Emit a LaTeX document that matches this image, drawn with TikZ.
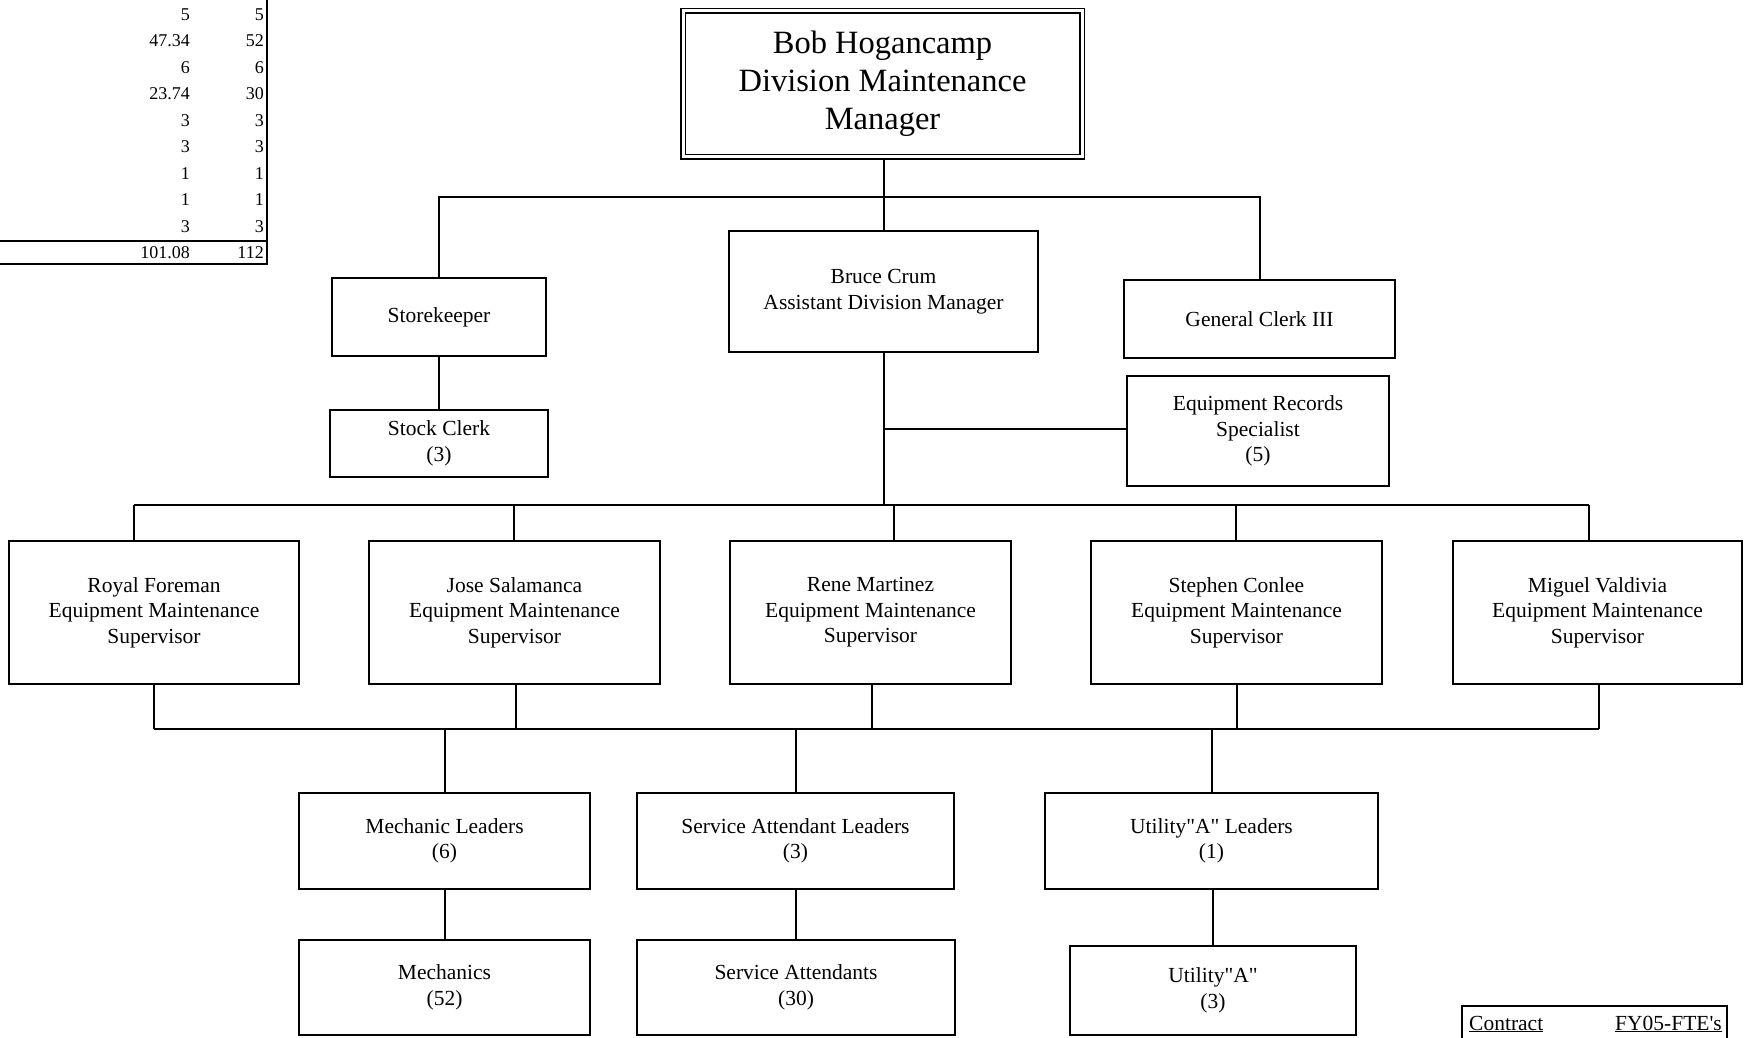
\documentclass[tikz,border=0pt]{standalone}
\usepackage{fontspec}
\setmainfont{Liberation Serif}
\begin{document}
\begin{tikzpicture}[x=1pt,y=-1pt,
  box/.style={draw=black, line width=2pt, rectangle, align=center, inner sep=0pt,
    font=\fontsize{21.5}{25.6}\selectfont},
  topbox/.style={draw=black, double=white, double distance=3pt, line width=1.6pt,
    rectangle, align=center, inner sep=0pt, font=\fontsize{32.5}{38}\selectfont},
  conn/.style={line width=2pt},
  tnum/.style={anchor=east, inner sep=0pt, font=\fontsize{18}{20}\selectfont},
  ctext/.style={inner sep=0pt, font=\fontsize{21.5}{25}\selectfont}
]
\useasboundingbox (0,0) rectangle (1748,1038);

% ---- table fragment (top left)
\draw[line width=2pt] (0,241) -- (267,241);
\draw[line width=1.6pt] (0,264) -- (267,264) -- (267,0);
\foreach \i/\a/\b in {0/5/5,1/47.34/52,2/6/6,3/23.74/30,4/3/3,5/3/3,6/1/1,7/1/1,8/3/3}{
  \node[tnum] (ta\i) at (190,{14.5+26.5*\i}) {\a};
  \node[tnum] (tb\i) at (264,{14.5+26.5*\i}) {\b};
}
\node[tnum] (tatot) at (190,253) {101.08};
\node[tnum] (tbtot) at (264,253) {112};

% ---- nodes
\node[topbox, minimum width=399, minimum height=146] (top) at (882.5,84)
  {Bob Hogancamp\\Division Maintenance\\Manager};
\node[box, minimum width=214, minimum height=78] (store) at (439,317) {Storekeeper};
\node[box, minimum width=309, minimum height=121] (bruce) at (883.5,291.5)
  {Bruce Crum\\Assistant Division Manager};
\node[box, minimum width=271, minimum height=78] (gc) at (1259.5,319) {General Clerk III};
\node[box, minimum width=218, minimum height=67] (stock) at (439,443.5) {Stock Clerk\\(3)};
\node[box, minimum width=262, minimum height=110] (ers) at (1258,431)
  {Equipment Records\\Specialist\\(5)};

\node[box, minimum width=290, minimum height=143] (royal) at (154,612.5)
  {Royal Foreman\\Equipment Maintenance\\Supervisor};
\node[box, minimum width=291, minimum height=143] (jose) at (514.5,612.5)
  {Jose Salamanca\\Equipment Maintenance\\Supervisor};
\node[box, minimum width=281, minimum height=143] (rene) at (870.5,612.5)
  {Rene Martinez\\Equipment Maintenance\\Supervisor};
\node[box, minimum width=291, minimum height=143] (steph) at (1236.5,612.5)
  {Stephen Conlee\\Equipment Maintenance\\Supervisor};
\node[box, minimum width=289, minimum height=143] (miguel) at (1597.5,612.5)
  {Miguel Valdivia\\Equipment Maintenance\\Supervisor};

\node[box, minimum width=291, minimum height=96] (mechl) at (444.5,841) {Mechanic Leaders\\(6)};
\node[box, minimum width=317, minimum height=96] (servl) at (795.5,841) {Service Attendant Leaders\\(3)};
\node[box, minimum width=333, minimum height=96] (utill) at (1211.5,841) {Utility\textquotedbl A\textquotedbl{} Leaders\\(1)};

\node[box, minimum width=291, minimum height=95] (mech) at (444.5,987.5) {Mechanics\\(52)};
\node[box, minimum width=318, minimum height=95] (serv) at (796,987.5) {Service Attendants\\(30)};
\node[box, minimum width=286, minimum height=89] (util) at (1213,990.5) {Utility\textquotedbl A\textquotedbl\\(3)};

% ---- contract box (cut at the bottom edge)
\coordinate (cbl) at (1462,1040);
\coordinate (ctl) at (1462,1006);
\coordinate (ctr) at (1727,1006);
\coordinate (cbr) at (1727,1040);
\draw[line width=2pt] (cbl) -- (ctl) -- (ctr) -- (cbr);
\node[ctext, anchor=base west] (contract) at (1469,1030) {\underline{Contract}};
\node[ctext, anchor=base east] (fte) at (1722,1030) {\underline{FY05-FTE\textquotesingle s}};

% ---- connectors top part
\coordinate (h1) at (884,197);
\coordinate (hl) at (439,197);
\coordinate (hr) at (1259.5,197);
\draw[conn] (top.south -| h1) -- (h1);
\draw[conn] (store.north) -- (hl) -- (hr) -- (gc.north);
\draw[conn] (h1) -- (bruce.north -| h1);
\draw[conn] (store.south) -- (stock.north);
\coordinate (bus) at (884,505);
\draw[conn] (bruce.south -| bus) -- (bus);
\coordinate (ersj) at (884,429);
\draw[conn] (ersj) -- (ersj -| ers.west);

% ---- upper bus to supervisors
\coordinate (d1) at (134,505);
\coordinate (d2) at (514,505);
\coordinate (d3) at (894,505);
\coordinate (d4) at (1236,505);
\coordinate (d5) at (1589,505);
\draw[conn] (d1) -- (d5);
\draw[conn] (d1) -- (d1 |- royal.north);
\draw[conn] (d2) -- (d2 |- jose.north);
\draw[conn] (d3) -- (d3 |- rene.north);
\draw[conn] (d4) -- (d4 |- steph.north);
\draw[conn] (d5) -- (d5 |- miguel.north);

% ---- lower bus
\coordinate (u1) at (154,729);
\coordinate (u2) at (516,729);
\coordinate (u3) at (872,729);
\coordinate (u4) at (1237,729);
\coordinate (u5) at (1599,729);
\draw[conn] (u1) -- (u5);
\draw[conn] (royal.south -| u1) -- (u1);
\draw[conn] (jose.south -| u2) -- (u2);
\draw[conn] (rene.south -| u3) -- (u3);
\draw[conn] (steph.south -| u4) -- (u4);
\draw[conn] (miguel.south -| u5) -- (u5);

\coordinate (l1) at (444.5,729);
\coordinate (l2) at (795.5,729);
\coordinate (l3) at (1212,729);
\draw[conn] (l1) -- (l1 |- mechl.north);
\draw[conn] (l2) -- (l2 |- servl.north);
\draw[conn] (l3) -- (l3 |- utill.north);

\draw[conn] (mechl.south) -- (mech.north);
\draw[conn] (servl.south) -- (servl.south |- serv.north);
\draw[conn] (utill.south -| util.north) -- (util.north);
\end{tikzpicture}
\end{document}
